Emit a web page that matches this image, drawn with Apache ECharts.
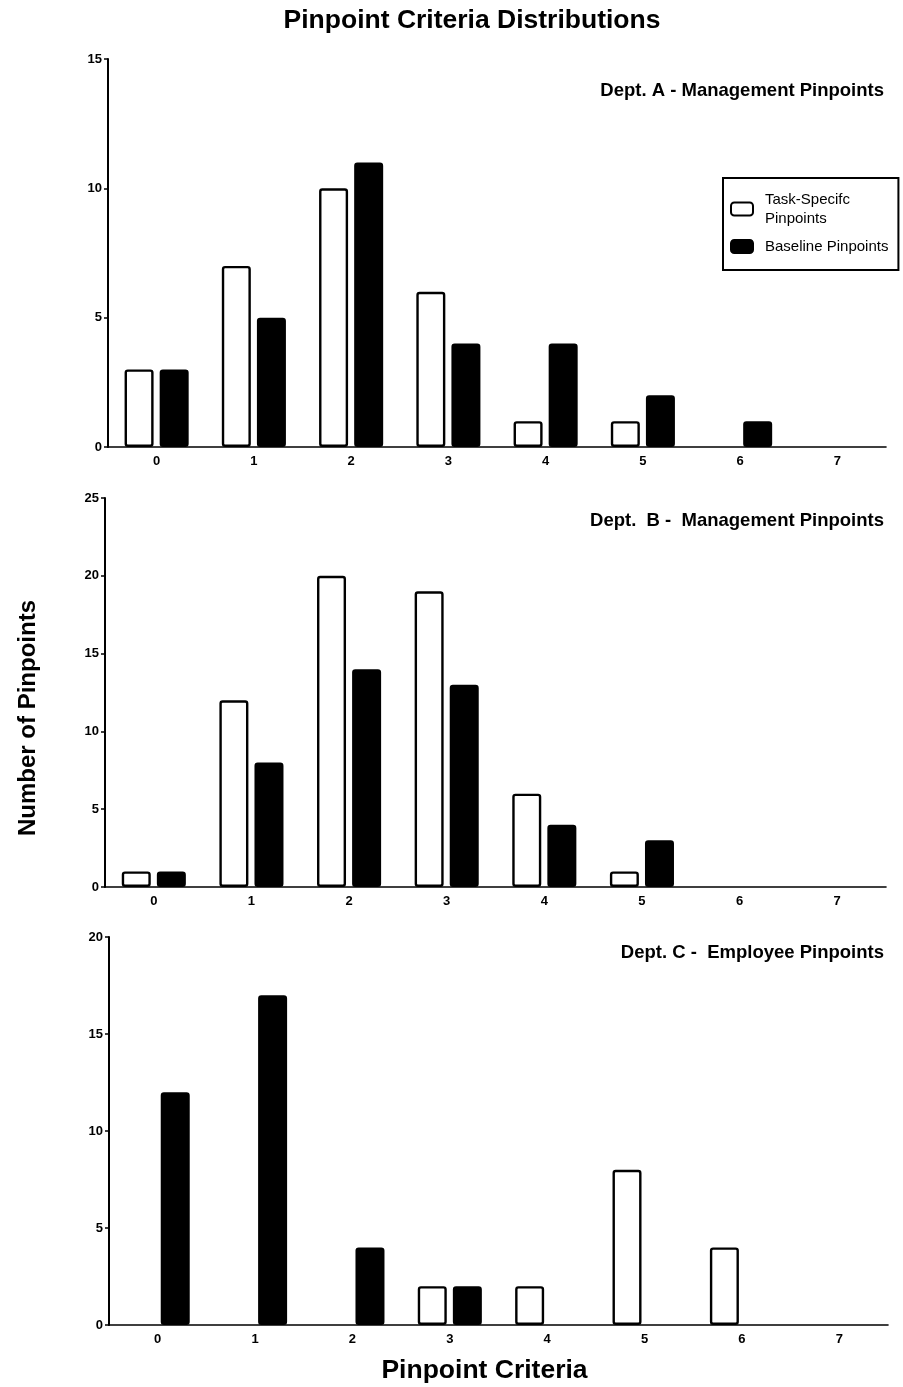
<!DOCTYPE html>
<html>
<head>
<meta charset="utf-8">
<script src="https://cdn.jsdelivr.net/npm/echarts@6/dist/echarts.min.js"></script>
<style>
  html, body { margin: 0; padding: 0; background: #fff; }
  #chart { width: 903px; height: 1387px; }
</style>
</head>
<body>
<div id="chart"></div>
<script>
// Pinpoint criteria (0-7) counted per department
const criteria = ['0', '1', '2', '3', '4', '5', '6', '7'];

const deptATask     = [3, 7, 10, 6, 1, 1, 0, 0];
const deptABaseline = [3, 5, 11, 4, 4, 2, 1, 0];

const deptBTask     = [1, 12, 20, 19, 6, 1, 0, 0];
const deptBBaseline = [1, 8, 14, 13, 4, 3, 0, 0];

const deptCTask     = [0, 0, 0, 2, 2, 8, 4, 0];
const deptCBaseline = [12, 17, 4, 2, 0, 0, 0, 0];

const panelTitles = [
  'Dept. A - Management Pinpoints',
  'Dept.  B -  Management Pinpoints',
  'Dept. C -  Employee Pinpoints'
];
const yMax = [15, 25, 20];
const taskName = 'Task-Specifc Pinpoints';
const baseName = 'Baseline Pinpoints';

const FONT = '"Liberation Sans", Arial, Helvetica, sans-serif';

// plot areas of the three stacked panels
const grids = [
  { left: 108, right: 17, top: 59,  height: 388 },
  { left: 105, right: 17, top: 498, height: 389 },
  { left: 109, right: 15, top: 937, height: 388 }
];
const titleTops = [81, 511, 943];

// empty categories draw no bar at all
const nz = arr => arr.map(v => (v === 0 ? null : v));

const xAxes = grids.map((g, i) => ({
  type: 'category',
  gridIndex: i,
  data: criteria,
  boundaryGap: true,
  axisLine: { lineStyle: { color: '#000', width: 1.6 } },
  axisTick: { alignWithLabel: true, length: 4, lineStyle: { color: '#000', width: 1.5 } },
  axisLabel: { color: '#000', fontWeight: 'bold', fontSize: 13, fontFamily: FONT, margin: 8 },
  splitLine: { show: false }
}));

const yAxes = grids.map((g, i) => ({
  type: 'value',
  gridIndex: i,
  min: 0,
  max: yMax[i],
  interval: 5,
  axisLine: { show: true, lineStyle: { color: '#000', width: 2 } },
  axisTick: { show: true, length: 4, lineStyle: { color: '#000', width: 1.5 } },
  axisLabel: { color: '#000', fontWeight: 'bold', fontSize: 13, fontFamily: FONT, margin: 6 },
  splitLine: { show: false }
}));

const pairs = [
  [deptATask, deptABaseline],
  [deptBTask, deptBBaseline],
  [deptCTask, deptCBaseline]
];

const series = [];
pairs.forEach((p, i) => {
  series.push({
    name: taskName,
    type: 'bar',
    xAxisIndex: i,
    yAxisIndex: i,
    data: nz(p[0]),
    barWidth: 29,
    barGap: '21%',
    itemStyle: { color: '#fff', borderColor: '#000', borderWidth: 2.4, borderRadius: 2 },
    emphasis: { disabled: true }
  });
  series.push({
    name: baseName,
    type: 'bar',
    xAxisIndex: i,
    yAxisIndex: i,
    data: nz(p[1]),
    barWidth: 29,
    barGap: '21%',
    itemStyle: { color: '#000', borderColor: '#000', borderWidth: 2.4, borderRadius: 2 },
    emphasis: { disabled: true }
  });
});

const titles = panelTitles.map((t, i) => ({
  text: t,
  right: 19,
  top: titleTops[i],
  padding: 0,
  textStyle: { color: '#000', fontSize: 18.5, fontWeight: 'bold', fontFamily: FONT }
}));

const chart = echarts.init(document.getElementById('chart'), null, { renderer: 'canvas' });
chart.setOption({
  backgroundColor: '#fff',
  animation: false,
  title: titles,
  grid: grids,
  xAxis: xAxes,
  yAxis: yAxes,
  series: series,
  legend: {
    data: [taskName, baseName],
    orient: 'vertical',
    left: 723,
    top: 178,
    itemWidth: 22,
    itemHeight: 13,
    itemGap: 9,
    padding: [12, 10, 14, 7],
    borderColor: '#000',
    borderWidth: 2,
    icon: 'roundRect',
    selectedMode: false,
    formatter: name => (name === taskName ? 'Task-Specifc\nPinpoints' : name),
    textStyle: {
      color: '#000', fontSize: 15, fontFamily: FONT, fontWeight: 'normal',
      lineHeight: 19, padding: [0, 0, 0, 7]
    }
  },
  graphic: [
    {
      type: 'text',
      x: 472,
      y: 21,
      style: {
        text: 'Pinpoint Criteria Distributions', fill: '#000', font: 'bold 26.5px ' + FONT,
        align: 'center', verticalAlign: 'middle'
      }
    },
    {
      type: 'text',
      x: 484.5,
      y: 1371,
      style: {
        text: 'Pinpoint Criteria', fill: '#000', font: 'bold 26.5px ' + FONT,
        align: 'center', verticalAlign: 'middle'
      }
    },
    {
      type: 'text',
      x: 28,
      y: 718,
      rotation: Math.PI / 2,
      style: {
        text: 'Number of Pinpoints', fill: '#000', font: 'bold 24px ' + FONT,
        align: 'center', verticalAlign: 'middle'
      }
    }
  ]
});
</script>
</body>
</html>
